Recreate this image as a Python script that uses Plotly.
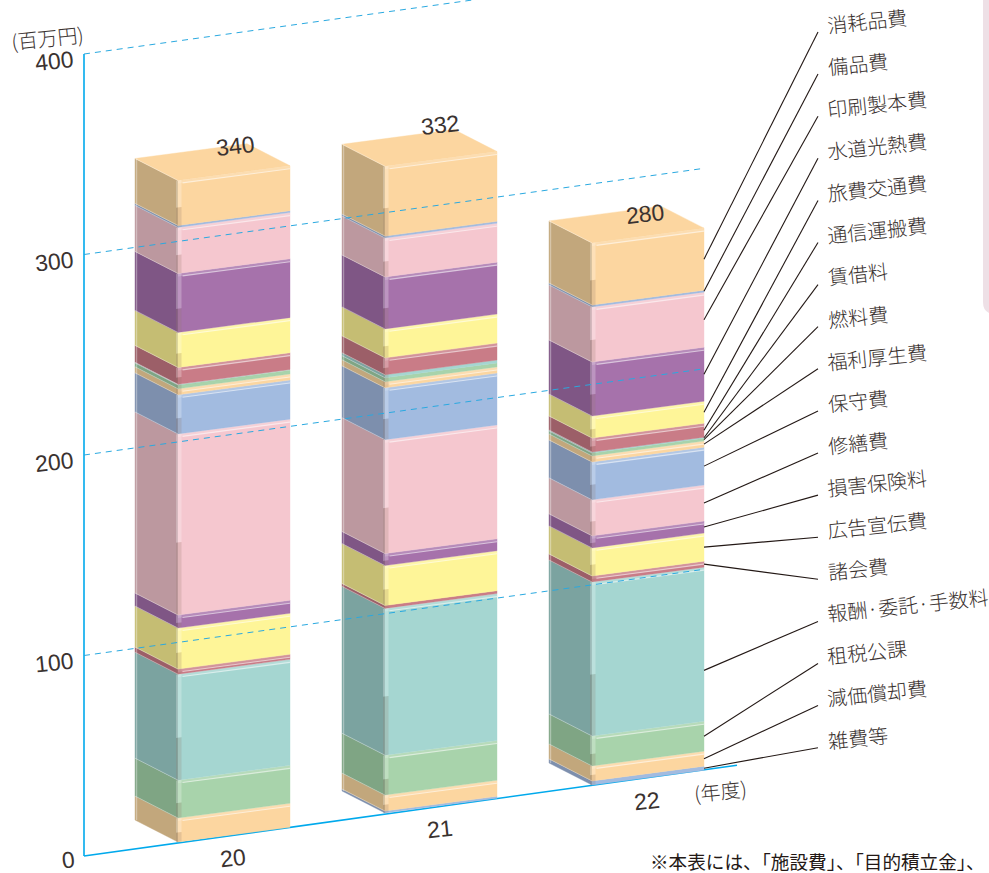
import plotly.graph_objects as go

# ---------- data ----------
YEARS = ["20", "21", "22"]
TOTALS = [340, 332, 280]
SERIES = ["雑費等", "減価償却費", "租税公課", "報酬·委託·手数料", "諸会費", "広告宣伝費", "損害保険料", "修繕費",
          "保守費", "福利厚生費", "燃料費", "賃借料", "通信運搬費", "旅費交通費", "水道光熱費", "印刷製本費", "備品費", "消耗品費"]
Y20 = [0.0, 12.3, 19.5, 54.5, 2.6, 21.1, 6.7, 93.1, 20.1, 3.1, 2.0, 0.3, 8.7, 18.0, 30.3, 23.7, 1.0, 23.1]
Y21 = [1.0, 8.2, 20.5, 75.5, 1.5, 20.5, 6.2, 58.5, 26.7, 3.1, 2.1, 1.5, 8.7, 14.9, 26.7, 20.0, 1.0, 35.9]
Y22 = [2.1, 7.7, 15.4, 79.2, 3.1, 14.4, 6.2, 18.5, 19.5, 3.1, 1.5, 0.5, 7.2, 11.3, 27.8, 28.3, 1.0, 31.9]
VALUES = [Y20, Y21, Y22]
AXIS_TICKS = [0, 100, 200, 300, 400]

# ---------- style ----------
FRONT = {"blue": "#A2BBE0", "orange": "#FCD6A0", "green": "#A8D3AB", "teal": "#A5D6D1",
         "red": "#C97C87", "yellow": "#FEF598", "purple": "#A672AB", "pink": "#F5C7CF"}
SIDE = {"blue": "#7D8FAD", "orange": "#C2A77C", "green": "#7FA584", "teal": "#7BA3A0",
        "red": "#9C5F68", "yellow": "#C5BD73", "purple": "#7F5685", "pink": "#BC989F"}
CYCLE = ["blue", "orange", "green", "teal", "red", "yellow", "purple", "pink"]
AXIS_BLUE = "#00A9EC"
INK = "#3A3230"
JP = "Noto Sans CJK JP"
NUM = "Liberation Sans"

# ---------- oblique projection ----------
W, H = 989, 873
ZERO_PX, AXIS_PX = 856.0, 2.005      # y pixel of value 0 on the axis, pixels per axis unit
VAL_PX = 1.945                       # pixels per value unit on the bars
AXIS_X, GRID_SLOPE = 84, 0.139
BACK_X = [135, 342, 549]
BACK_Y = [820, 791, 763]
DEPTH_X, DEPTH_Y, BAR_W, BAR_SLOPE = 43, 22, 112, 0.132


def Y(px):
    return (ZERO_PX - px) / AXIS_PX


def P(bar, v, u, d):
    x = BACK_X[bar] + d * DEPTH_X + u * BAR_W
    y = BACK_Y[bar] + d * DEPTH_Y - v * VAL_PX - u * BAR_W * BAR_SLOPE
    return x, Y(y)


def poly(corners):
    xs, ys = zip(*corners)
    return list(xs) + [xs[0]], list(ys) + [ys[0]]


def add_fill(fig, xs, ys, color, line=True):
    fig.add_trace(go.Scatter(x=xs, y=ys, mode="lines", fill="toself", fillcolor=color,
                             line=dict(color=color if line else "rgba(0,0,0,0)", width=0.4 if line else 0),
                             hoverinfo="skip", showlegend=False))


def add_line(fig, xs, ys, color, width, dash=None):
    fig.add_trace(go.Scatter(x=xs, y=ys, mode="lines", line=dict(color=color, width=width, dash=dash),
                             hoverinfo="skip", showlegend=False))


fig = go.Figure()

# panel at the right edge, axes
r = 12
panel = (f"M 983 {Y(0)} L 983 {Y(314 - r)} Q 983 {Y(314)} {983 + r} {Y(314)} L 995 {Y(314)} L 995 {Y(0)} Z")

add_line(fig, [AXIS_X, AXIS_X], [Y(54), Y(ZERO_PX)], AXIS_BLUE, 1.6)
add_line(fig, [AXIS_X, 737], [0, (737 - AXIS_X) * GRID_SLOPE / AXIS_PX], AXIS_BLUE, 1.6)

# bars
for b, vals in enumerate(VALUES):
    cum = 0.0
    bands_x, bands_y, hl_x, hl_y, edge_x, edge_y = [], [], [], [], [], []
    lite_x, lite_y, dark_x, dark_y = [], [], [], []
    for i, v in enumerate(vals):
        if v <= 0:
            continue
        c = CYCLE[i % 8]
        v0, v1 = cum, cum + v
        cum = v1
        xs, ys = poly([P(b, v0, 0, 0), P(b, v0, 0, 1), P(b, v1, 0, 1), P(b, v1, 0, 0)])
        add_fill(fig, xs, ys, SIDE[c])
        xs, ys = poly([P(b, v0, 0, 1), P(b, v0, 1, 1), P(b, v1, 1, 1), P(b, v1, 0, 1)])
        add_fill(fig, xs, ys, FRONT[c])
        off = 3 / VAL_PX
        if v * VAL_PX >= 5:
            xs, ys = poly([P(b, v1, 0, 1), P(b, v1, 1, 1), P(b, v1 - off, 1, 1), P(b, v1 - off, 0, 1)])
            bands_x += xs + [None]
            bands_y += ys + [None]
            a, e = P(b, v1 - off, 0.04, 1), P(b, v1 - off, 1, 1)
            hl_x += [a[0], e[0], None]
            hl_y += [a[1], e[1], None]
        a, e = P(b, v1, 0, 0), P(b, v1, 0, 1)
        edge_x += [a[0], e[0], None]
        edge_y += [a[1], e[1], None]
        # translucent strip down the front corner
        ul, ur = -2 / BAR_W, 3.5 / BAR_W
        if v * VAL_PX >= 12:
            vm = v1 - 0.6 * v
            xs, ys = poly([P(b, v1, ul, 1), P(b, v1, ur, 1), P(b, vm, ur, 1), P(b, vm, ul, 1)])
            lite_x += xs + [None]
            lite_y += ys + [None]
        else:
            vm = v1
        xs, ys = poly([P(b, vm, ul, 1), P(b, vm, ur, 1), P(b, v0, ur, 1), P(b, v0, ul, 1)])
        dark_x += xs + [None]
        dark_y += ys + [None]
    # top face
    xs, ys = poly([P(b, cum, 0, 0), P(b, cum, 0, 1), P(b, cum, 1, 1), P(b, cum, 1, 0)])
    add_fill(fig, xs, ys, FRONT["orange"])
    add_fill(fig, bands_x, bands_y, "rgba(255,255,255,0.18)", line=False)
    add_fill(fig, lite_x, lite_y, "rgba(255,255,255,0.25)", line=False)
    add_fill(fig, dark_x, dark_y, "rgba(150,125,110,0.22)", line=False)
    add_line(fig, hl_x, hl_y, "rgba(255,255,255,0.55)", 1.1)
    add_line(fig, edge_x, edge_y, "rgba(255,255,255,0.35)", 0.9)
    a, e = P(b, 0, 0, 0), P(b, cum, 0, 0)
    add_line(fig, [a[0] + 1.5, e[0] + 1.5], [a[1], e[1]], "rgba(255,255,255,0.35)", 1.4)

# dashed gridlines lie over the bars
for t in AXIS_TICKS[1:]:
    x1 = 705
    add_line(fig, [AXIS_X, x1], [t, t + (x1 - AXIS_X) * GRID_SLOPE / AXIS_PX], "#2AA9E0", 1.0, "6px,5px")

# leader lines and labels
annotations = []
LEADER_FRAC = {"報酬·委託·手数料": 0.33}
cum = 0.0
for i, (name, v) in enumerate(zip(SERIES, VALUES[2])):
    row = len(SERIES) - 1 - i
    end_y = 32 + row * 42.1
    x0, y0 = P(2, cum + v * LEADER_FRAC.get(name, 0.5), 1, 1)
    cum += v
    add_line(fig, [x0, 818], [y0, Y(end_y)], "#231815", 1.1)
    width = 20 * len(name)
    annotations.append(dict(x=824, y=Y(end_y - 7.5 - 0.052 * width), text=name, showarrow=False, xanchor="left",
                            yanchor="middle", textangle=-6,
                            font=dict(family=JP, size=20, color=INK, weight=300)))

# totals and year labels
TOTAL_SHIFT = [0, 7, -9]
TOTAL_XSHIFT = [1, -1, -3]
for b, total in enumerate(TOTALS):
    x, y = P(b, total, 0.88, 0)
    annotations.append(dict(x=x, y=y, xshift=TOTAL_XSHIFT[b], yshift=TOTAL_SHIFT[b], text=str(total),
                            showarrow=False, textangle=-6, font=dict(family=NUM, size=23, color=INK)))
    annotations.append(dict(x=BACK_X[b] + 98, y=Y(BACK_Y[b] + 38), text=YEARS[b], showarrow=False, textangle=-6,
                            font=dict(family=NUM, size=23, color=INK)))

annotations += [
    dict(x=47, y=Y(37), text="(百万円)", showarrow=False, textangle=-6,
         font=dict(family=JP, size=20, color=INK, weight=300)),
    dict(x=720, y=Y(790), text="(年度)", showarrow=False, textangle=-6,
         font=dict(family=JP, size=20, color=INK, weight=300)),
    dict(x=648, y=Y(860), text="※本表には、「施設費」、「目的積立金」、", showarrow=False, xanchor="left",
         font=dict(family=JP, size=18.6, color="#231815")),
    # the lowest tick label would fall past the page edge for the axis, so it is placed directly
    dict(x=68, y=Y(860), text=str(AXIS_TICKS[0]), showarrow=False, textangle=-6,
         font=dict(family=NUM, size=23, color=INK)),
]

fig.update_layout(
    width=W, height=H, autosize=False, margin=dict(l=0, r=0, t=0, b=0),
    paper_bgcolor="white", plot_bgcolor="white", showlegend=False,
    xaxis=dict(range=[0, W], visible=False, fixedrange=True),
    yaxis=dict(range=[Y(H), Y(0)], anchor="free", position=AXIS_X / W, showgrid=False, zeroline=False,
               showline=False, ticks="", tickvals=AXIS_TICKS[1:], ticktext=[str(t) for t in AXIS_TICKS[1:]],
               tickangle=-6, ticklabelstandoff=11, ticklabelshift=5,
               tickfont=dict(family=NUM, size=23, color=INK), fixedrange=True),
    annotations=annotations,
    shapes=[dict(type="path", path=panel, xref="x", yref="y", fillcolor="#EEE0E6", line_width=0, layer="below")],
)

fig.write_html("out.html", config={"displayModeBar": False},
               post_script="document.body.style.margin='0';document.body.style.overflow='hidden';")
